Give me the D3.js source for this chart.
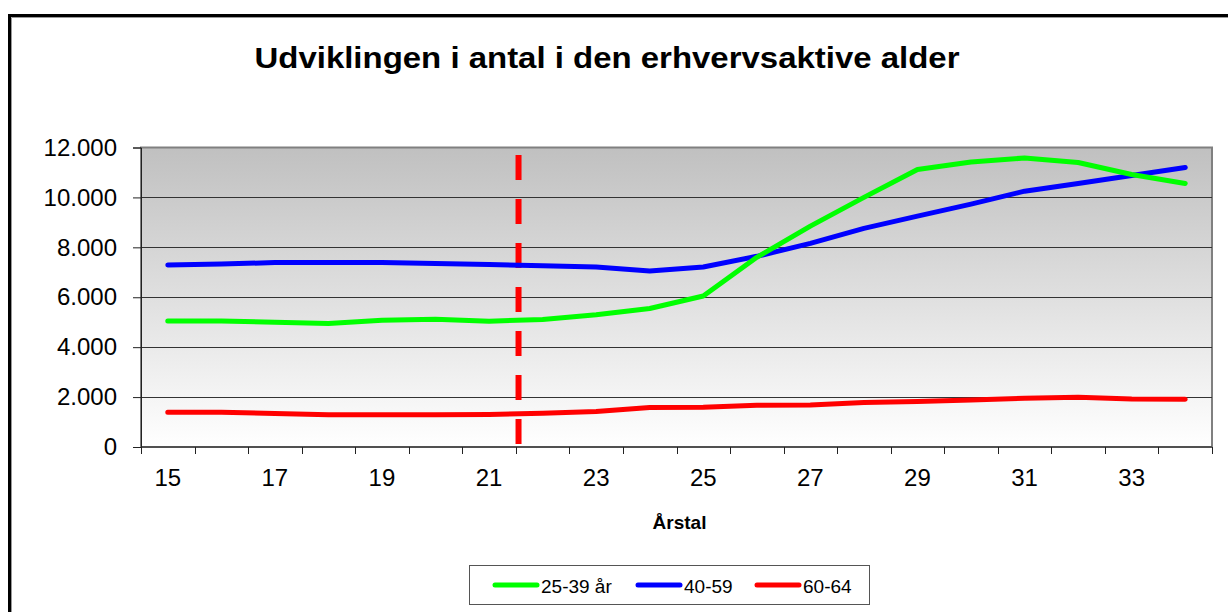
<!DOCTYPE html>
<html>
<head>
<meta charset="utf-8">
<script src="https://cdn.jsdelivr.net/npm/d3@7"></script>
<style>
  body { margin: 0; background: #fff; }
  text { font-family: "Liberation Sans", Arial, sans-serif; }
</style>
</head>
<body>
<script>
// data
const years = [15, 16, 17, 18, 19, 20, 21, 22, 23, 24, 25, 26, 27, 28, 29, 30, 31, 32, 33, 34];
const yearLabels = [15, 17, 19, 21, 23, 25, 27, 29, 31, 33];
const age2539 = [5050, 5050, 5000, 4950, 5080, 5120, 5040, 5110, 5300, 5550, 6050, 7600, 8850, 10000, 11120, 11420, 11580, 11400, 10920, 10560];
const age4059 = [7290, 7330, 7390, 7390, 7390, 7350, 7310, 7260, 7215, 7055, 7215, 7640, 8160, 8760, 9250, 9730, 10250, 10560, 10880, 11200];
const age6064 = [1390, 1390, 1340, 1290, 1290, 1290, 1300, 1350, 1420, 1580, 1590, 1670, 1680, 1780, 1820, 1880, 1950, 1990, 1925, 1910];
const seriesNames = ["25-39 år", "40-59", "60-64"];
const seriesColors = ["#00ff00", "#0000ff", "#ff0000"];
const yTicks = [0, 2000, 4000, 6000, 8000, 10000, 12000];
const markerPos = 7.05; // dashed marker, in category widths from the left edge

const width = 1228;
const height = 612;
const plot = {left: 141, top: 147.5, right: 1212, bottom: 447};

var svg = d3.select("body")
  .append("svg")
  .attr("width", width)
  .attr("height", height);

// outer frame
svg.append("path")
  .attr("d", "M9.5," + height + "V15.5H" + width)
  .attr("fill", "none")
  .attr("stroke", "#000")
  .attr("stroke-width", 3);
svg.append("path")
  .attr("d", "M11.5," + height + "V17.5H" + width)
  .attr("fill", "none")
  .attr("stroke", "#999")
  .attr("stroke-width", 1);

// title
svg.append("text")
  .attr("x", 607)
  .attr("y", 68)
  .attr("text-anchor", "middle")
  .attr("font-size", 30)
  .attr("font-weight", "bold")
  .attr("textLength", 705)
  .attr("lengthAdjust", "spacingAndGlyphs")
  .text("Udviklingen i antal i den erhvervsaktive alder");

var x = d3.scaleBand()
  .domain(years)
  .range([plot.left, plot.right]);

var y = d3.scaleLinear()
  .domain([0, 12000])
  .range([plot.bottom, plot.top]);

// background gradient
var grad = svg.append("defs").append("linearGradient")
  .attr("id", "bg")
  .attr("x1", 0).attr("y1", 0)
  .attr("x2", 0).attr("y2", 1);
grad.append("stop").attr("offset", "0%").attr("stop-color", "#c0c0c0");
grad.append("stop").attr("offset", "100%").attr("stop-color", "#ffffff");

svg.append("rect")
  .attr("x", plot.left)
  .attr("y", plot.top)
  .attr("width", plot.right - plot.left)
  .attr("height", plot.bottom - plot.top)
  .attr("fill", "url(#bg)")
  .attr("stroke", "#808080")
  .attr("stroke-width", 2);

// gridlines
svg.append("g")
  .selectAll("line")
  .data(yTicks.slice(1, -1))
  .join("line")
  .attr("x1", plot.left)
  .attr("x2", plot.right)
  .attr("y1", d => Math.round(y(d)) + 0.5)
  .attr("y2", d => Math.round(y(d)) + 0.5)
  .attr("stroke", "#333")
  .attr("stroke-width", 1);

// y axis
var yAxis = svg.append("g")
  .attr("transform", "translate(" + plot.left + ",0)")
  .call(d3.axisLeft(y)
    .tickValues(yTicks)
    .tickSize(8)
    .tickPadding(16)
    .tickFormat(d => d3.format(",")(d).replace(/,/g, ".")));
yAxis.select(".domain").attr("stroke", "#222");
yAxis.selectAll(".tick line").attr("stroke", "#222");
yAxis.selectAll("text")
  .attr("font-size", 24)
  .attr("fill", "#000")
  .style("font-family", "'Liberation Sans', Arial, sans-serif");

// x axis, ticks sit between categories
var bounds = d3.range(years.length + 1).map(i => plot.left + i * x.step());
var xAxisG = svg.append("g");
xAxisG.append("line")
  .attr("x1", plot.left).attr("x2", plot.right)
  .attr("y1", plot.bottom).attr("y2", plot.bottom)
  .attr("stroke", "#222");
xAxisG.selectAll(".xt")
  .data(bounds)
  .join("line")
  .attr("class", "xt")
  .attr("x1", d => Math.round(d) + 0.5)
  .attr("x2", d => Math.round(d) + 0.5)
  .attr("y1", plot.bottom)
  .attr("y2", plot.bottom + 7)
  .attr("stroke", "#222");
xAxisG.selectAll("text")
  .data(yearLabels)
  .join("text")
  .attr("x", d => x(d) + x.bandwidth() / 2)
  .attr("y", 486)
  .attr("text-anchor", "middle")
  .attr("font-size", 24)
  .text(d => d);

svg.append("text")
  .attr("x", (plot.left + plot.right) / 2 + 3)
  .attr("y", 529)
  .attr("text-anchor", "middle")
  .attr("font-size", 19)
  .attr("font-weight", "bold")
  .text("Årstal");

// dashed marker line
var mx = plot.left + markerPos * x.step();
svg.append("line")
  .attr("x1", mx).attr("x2", mx)
  .attr("y1", 155).attr("y2", plot.bottom + 3)
  .attr("stroke", "#ff0000")
  .attr("stroke-width", 6)
  .attr("stroke-dasharray", "25,19");

// lines
var line = d3.line()
  .x((d, i) => x(years[i]) + x.bandwidth() / 2)
  .y(d => y(d));

[age6064, age4059, age2539].forEach(function (s) {
  var idx = [age2539, age4059, age6064].indexOf(s);
  svg.append("path")
    .datum(s)
    .attr("fill", "none")
    .attr("stroke", seriesColors[idx])
    .attr("stroke-width", 5)
    .attr("stroke-linecap", "round")
    .attr("stroke-linejoin", "round")
    .attr("d", line);
});

// legend
svg.append("rect")
  .attr("x", 469.5).attr("y", 565.5)
  .attr("width", 400).attr("height", 39)
  .attr("fill", "#fff")
  .attr("stroke", "#555")
  .attr("stroke-width", 1);

var legendX = [493, 636, 755];
seriesNames.forEach(function (name, i) {
  svg.append("line")
    .attr("x1", legendX[i] + 2).attr("x2", legendX[i] + 44)
    .attr("y1", 585).attr("y2", 585)
    .attr("stroke", seriesColors[i])
    .attr("stroke-width", 5)
    .attr("stroke-linecap", "round");
  svg.append("text")
    .attr("x", legendX[i] + 48)
    .attr("y", 593)
    .attr("font-size", 19)
    .text(name);
});
</script>
</body>
</html>
